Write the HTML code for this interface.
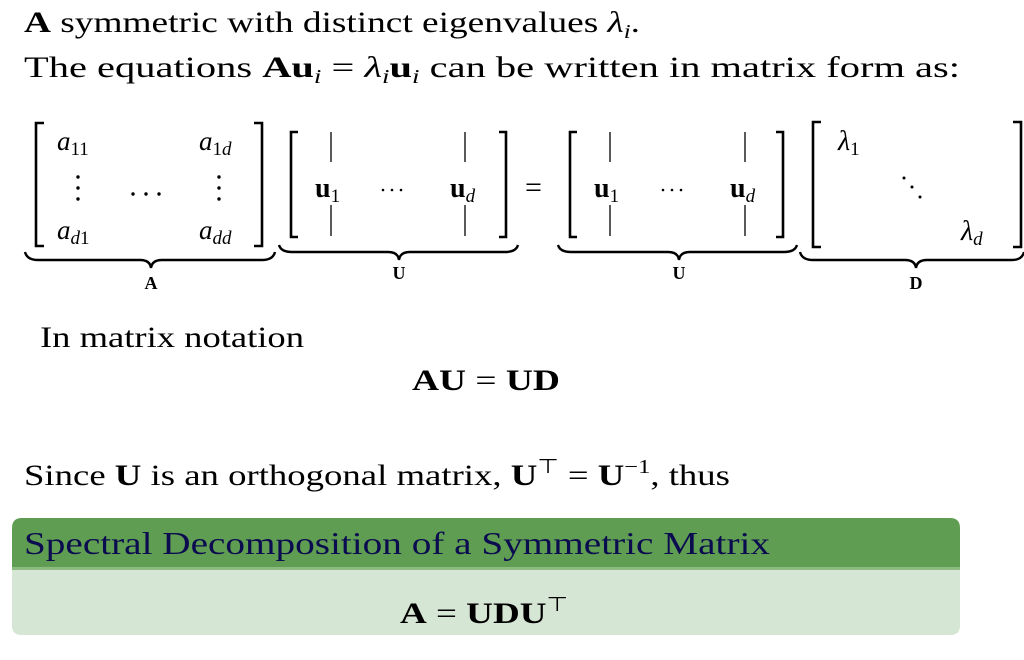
<!DOCTYPE html>
<html><head><meta charset="utf-8"><style>
html,body{margin:0;padding:0;background:#fff;width:1024px;height:660px;overflow:hidden}
svg{display:block}
text{font-family:"Liberation Serif",serif;fill:#000}
.i{font-style:italic}
.b{font-weight:bold}
</style></head><body>
<svg width="1024" height="660" viewBox="0 0 1024 660">
<text x="24" y="32" font-size="30" textLength="616" lengthAdjust="spacingAndGlyphs"><tspan class="b">A</tspan> symmetric with distinct eigenvalues <tspan class="i">λ</tspan><tspan class="i" font-size="20" dy="6">i</tspan><tspan dy="-6">.</tspan></text>
<text x="24" y="77" font-size="30" textLength="936" lengthAdjust="spacingAndGlyphs">The equations <tspan class="b">Au</tspan><tspan class="i" font-size="20" dy="6">i</tspan><tspan dy="-6"> = </tspan><tspan class="i">λ</tspan><tspan class="i" font-size="20" dy="6">i</tspan><tspan class="b" dy="-6">u</tspan><tspan class="i" font-size="20" dy="6">i</tspan><tspan dy="-6"> can be written in matrix form as:</tspan></text>

<g stroke="#000" stroke-width="2.6" fill="none">
<path d="M44,123 H36 V246 H44"/><path d="M254,123 H262 V246 H254"/>
<path d="M298,132 H291 V237 H298"/><path d="M499,132 H506 V237 H499"/>
<path d="M577,132 H570 V237 H577"/><path d="M776,132 H783 V237 H776"/>
<path d="M821,122 H813 V247 H821"/><path d="M1013,122 H1021 V247 H1013"/>
</g>
<g stroke="#000" stroke-width="1.3">
<line x1="331" y1="132" x2="331" y2="162"/><line x1="331" y1="205" x2="331" y2="236"/>
<line x1="465" y1="132" x2="465" y2="162"/><line x1="465" y1="205" x2="465" y2="236"/>
<line x1="610" y1="132" x2="610" y2="162"/><line x1="610" y1="205" x2="610" y2="236"/>
<line x1="745" y1="132" x2="745" y2="162"/><line x1="745" y1="205" x2="745" y2="236"/>
</g>
<g stroke="#000" stroke-width="2.4" fill="none">
<path d="M25,252 Q27,260 38,260 H140 Q150,260 151,268 Q152,260 162,260 H262 Q273,260 275,252"/>
<path d="M279,245 Q281,252 292,252 H388 Q398,252 399,260 Q400,252 410,252 H505 Q516,252 518,245"/>
<path d="M558,245 Q560,252 571,252 H668 Q678,252 679,260 Q680,252 690,252 H784 Q795,252 797,245"/>
<path d="M800,252 Q802,260 813,260 H905 Q915,260 916,268 Q917,260 927,260 H1012 Q1022,260 1024,252"/>
</g>
<g font-size="18" text-anchor="middle">
<text x="151" y="289" class="b">A</text>
<text x="399" y="279" class="b">U</text>
<text x="679" y="279" class="b">U</text>
<text x="916" y="289" class="b">D</text>
</g>
<g font-size="27">
<text x="57" y="150" class="i">a<tspan font-size="19" dy="5" font-style="normal">11</tspan></text>
<text x="199" y="150" class="i">a<tspan font-size="19" dy="5" font-style="normal">1</tspan><tspan font-size="19">d</tspan></text>
<text x="57" y="239" class="i">a<tspan font-size="19" dy="5">d</tspan><tspan font-size="19" font-style="normal">1</tspan></text>
<text x="199" y="239" class="i">a<tspan font-size="19" dy="5">dd</tspan></text>
</g>
<g fill="#000">
<circle cx="78" cy="177" r="1.7"/><circle cx="78" cy="188" r="1.7"/><circle cx="78" cy="199" r="1.7"/>
<circle cx="219" cy="177" r="1.7"/><circle cx="219" cy="188" r="1.7"/><circle cx="219" cy="199" r="1.7"/>
<circle cx="133" cy="194" r="1.7"/><circle cx="146" cy="194" r="1.7"/><circle cx="159" cy="194" r="1.7"/>
<circle cx="383" cy="190" r="1.3"/><circle cx="392" cy="190" r="1.3"/><circle cx="401" cy="190" r="1.3"/>
<circle cx="663" cy="190" r="1.3"/><circle cx="672" cy="190" r="1.3"/><circle cx="681" cy="190" r="1.3"/>
<circle cx="904" cy="178" r="1.5"/><circle cx="912" cy="187" r="1.5"/><circle cx="920" cy="197" r="1.5"/>
</g>
<g font-size="28">
<text x="315" y="197" class="b">u<tspan font-size="19" dy="5" font-weight="normal">1</tspan></text>
<text x="450" y="197" class="b">u<tspan font-size="19" dy="5" font-weight="normal" font-style="italic">d</tspan></text>
<text x="594" y="197" class="b">u<tspan font-size="19" dy="5" font-weight="normal">1</tspan></text>
<text x="730" y="197" class="b">u<tspan font-size="19" dy="5" font-weight="normal" font-style="italic">d</tspan></text>
<text x="525" y="197" font-size="30">=</text>
<text x="838" y="150" class="i">λ<tspan font-size="19" dy="5" font-style="normal">1</tspan></text>
<text x="961" y="240" class="i">λ<tspan font-size="19" dy="5">d</tspan></text>
</g>

<text x="40" y="347" font-size="30" textLength="264" lengthAdjust="spacingAndGlyphs">In matrix notation</text>
<text x="412" y="390" font-size="30" textLength="148" lengthAdjust="spacingAndGlyphs"><tspan class="b">AU</tspan> = <tspan class="b">UD</tspan></text>
<text x="24" y="485" font-size="30" textLength="706" lengthAdjust="spacingAndGlyphs">Since <tspan class="b">U</tspan> is an orthogonal matrix, <tspan class="b">U</tspan><tspan font-size="20" dy="-12">⊤</tspan><tspan dy="12"> = </tspan><tspan class="b">U</tspan><tspan font-size="20" dy="-12">−1</tspan><tspan dy="12">, thus</tspan></text>

<path d="M12,568 V528 Q12,518 22,518 H950 Q960,518 960,528 V568 Z" fill="#5f9d52"/>
<path d="M12,568 H960 V626 Q960,635 950,635 H22 Q12,635 12,626 Z" fill="#d6e6d4"/>
<rect x="12" y="567" width="948" height="3" fill="#8cbb82"/>
<text x="24" y="554" font-size="32" textLength="746" lengthAdjust="spacingAndGlyphs" style="fill:#0b0b4f">Spectral Decomposition of a Symmetric Matrix</text>
<text x="400" y="623" font-size="30" textLength="168" lengthAdjust="spacingAndGlyphs"><tspan class="b">A</tspan> = <tspan class="b">UDU</tspan><tspan font-size="20" dy="-12">⊤</tspan></text>
</svg>
</body></html>
